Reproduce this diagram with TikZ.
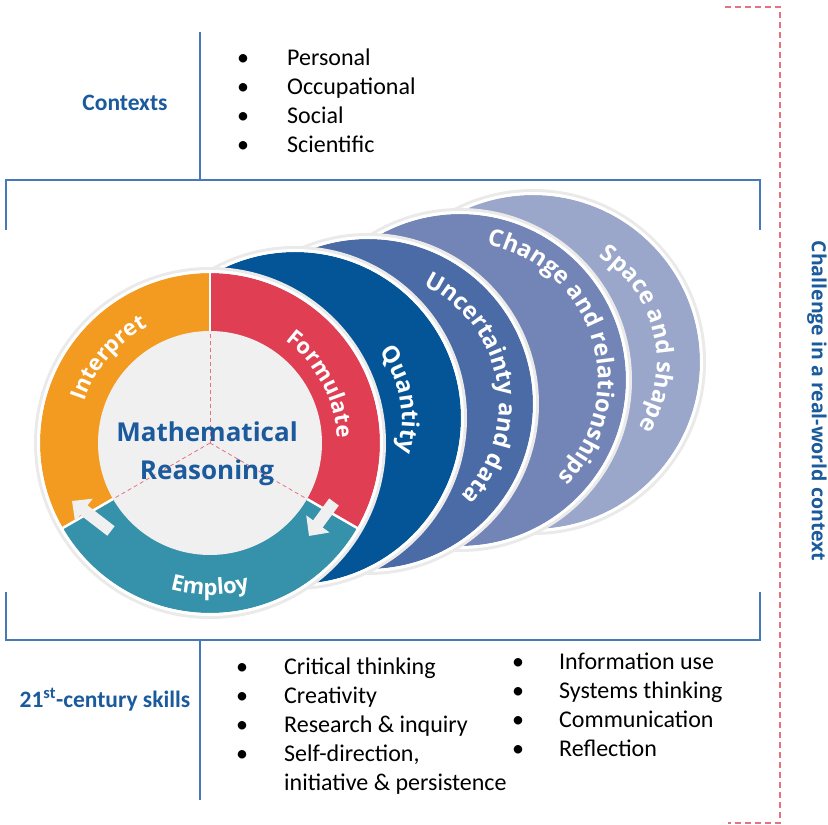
\documentclass[tikz,border=0pt]{standalone}
\usepackage{fontspec}
\setmainfont{Carlito}
\newfontfamily\wheelfamily{Open Sans}
\usetikzlibrary{arrows.meta,calc,decorations.text,positioning}

\definecolor{frameblue}{HTML}{4679B8}
\definecolor{headblue}{HTML}{1B5A9C}
\definecolor{dashpink}{HTML}{E8707F}
\definecolor{interpretorange}{HTML}{F39B21}
\definecolor{formulatered}{HTML}{E03F53}
\definecolor{employteal}{HTML}{3592AA}
\definecolor{quantityblue}{HTML}{035597}
\definecolor{uncertaintyblue}{HTML}{4A6BA5}
\definecolor{changeblue}{HTML}{7285B6}
\definecolor{spaceblue}{HTML}{9AA7CB}
\definecolor{coregrey}{HTML}{F0F0F0}
\definecolor{halogrey}{HTML}{EAEAEA}

\newcommand{\wheeltext}{\wheelfamily\bfseries\fontsize{22}{22}\selectfont\color{white}}
\newcommand{\domaintext}{\wheelfamily\bfseries\fontsize{23.5}{24}\selectfont\color{white}}

\begin{document}
\begin{tikzpicture}[x=1pt,y=1pt,>=latex]
\tikzstyle{frame}=[draw=frameblue,line width=1.5pt]
\tikzstyle{halo}=[fill=halogrey]
\tikzstyle{rim}=[draw=white,line width=3pt]
\tikzstyle{headtext}=[text=headblue,font=\bfseries\fontsize{23.5}{27}\selectfont,inner sep=0pt]
\tikzstyle{listtext}=[font=\fontsize{24}{29}\selectfont,inner sep=0pt]
\tikzstyle{coretext}=[text=headblue,font=\wheelfamily\bfseries\fontsize{26}{30}\selectfont,inner sep=0pt]
\tikzstyle{cyclearrow}=[draw=coregrey,line width=12pt,-{Triangle[width=28pt,length=15pt]}]
\tikzstyle{guide}=[draw=dashpink,line width=0.8pt,dash pattern=on 4pt off 3pt]
\tikzstyle{arclabel}=[decorate,decoration={text along path,text align=center,text={|\wheeltext|#1}}]
\tikzstyle{domainlabel}=[decorate,decoration={text along path,text align=center,text={|\domaintext|#1}}]

\useasboundingbox (0,0) rectangle (828,825);

% --- centres of the wheel and the content areas ---
\coordinate (W) at (210,382);
\coordinate (Q) at (295,407);
\coordinate (U) at (368,421);
\coordinate (C) at (460,445);
\coordinate (S) at (533,463);

% --- frame lines ---
\draw[frame] (200,793) -- (200,645);
\draw[frame] (6,595) -- (6,645) -- (760,645) -- (760,595);
\draw[frame] (6,233) -- (6,185) -- (760,185) -- (760,233);
\draw[frame] (200,185) -- (200,25);
\draw[dashpink,line width=1.5pt,dash pattern=on 6pt off 4pt] (725,818) -- (780,818) -- (780,2) -- (728,2);

% --- content areas (back to front) ---
\fill[halo] (S) circle[radius=173pt];
\fill[spaceblue] (S) circle[radius=167pt];
\draw[rim] (S) circle[radius=168.5pt];
\fill[halo] (C) circle[radius=172pt];
\fill[changeblue] (C) circle[radius=166pt];
\draw[rim] (C) circle[radius=167.5pt];
\fill[halo] (U) circle[radius=171pt];
\fill[uncertaintyblue] (U) circle[radius=165pt];
\draw[rim] (U) circle[radius=166.5pt];
\fill[halo] (Q) circle[radius=172pt];
\fill[quantityblue] (Q) circle[radius=166pt];
\draw[rim] (Q) circle[radius=167.5pt];

\path[domainlabel=Space and shape] ($(S)+(75:124pt)$) arc[start angle=75,end angle=-49,radius=124pt];
\path[domainlabel=Change and relationships] ($(C)+(90:138pt)$) arc[start angle=90,end angle=-56,radius=138pt];
\path[domainlabel=Uncertainty and data] ($(U)+(75:131pt)$) arc[start angle=75,end angle=-55,radius=131pt];
\path[domainlabel=Quantity] ($(Q)+(60:107pt)$) arc[start angle=60,end angle=-40,radius=107pt];

% --- modelling cycle ---
\fill[halo] (W) circle[radius=176pt];
\fill[interpretorange] (W) -- ($(W)+(90:170pt)$) arc[start angle=90,end angle=210,radius=170pt] -- cycle;
\fill[formulatered] (W) -- ($(W)+(-30:170pt)$) arc[start angle=-30,end angle=90,radius=170pt] -- cycle;
\fill[employteal] (W) -- ($(W)+(210:170pt)$) arc[start angle=210,end angle=330,radius=170pt] -- cycle;
\draw[rim] (W) circle[radius=171.5pt];
\fill[coregrey] (W) circle[radius=112pt];
\draw[white,line width=2.5pt] ($(W)+(90:112pt)$) -- ($(W)+(90:172pt)$);
\draw[white,line width=2.5pt] ($(W)+(210:112pt)$) -- ($(W)+(210:172pt)$);
\draw[white,line width=2.5pt] ($(W)+(330:112pt)$) -- ($(W)+(330:172pt)$);
\draw[guide] (W) -- ($(W)+(90:112pt)$);
\draw[guide] (W) -- ($(W)+(210:112pt)$);
\draw[guide] (W) -- ($(W)+(330:112pt)$);

\coordinate (tailL) at (111,294);
\coordinate (tipL) at (72,324);
\coordinate (tailR) at (334,323);
\coordinate (tipR) at (309,289);
\draw[cyclearrow] (tailL) -- (tipL);
\draw[cyclearrow] (tailR) -- (tipR);

\path[arclabel=Interpret] ($(W)+(190:132pt)$) arc[start angle=190,end angle=90,radius=132pt];
\path[arclabel=Formulate] ($(W)+(78:127pt)$) arc[start angle=78,end angle=-22,radius=127pt];
\path[arclabel=Employ] ($(W)+(220:152pt)$) arc[start angle=220,end angle=320,radius=152pt];

\node[coretext,anchor=base] (mathline) at (207,383) {Mathematical};
\node[coretext,anchor=base] (reasonline) at ([yshift=-38pt]mathline.base) {Reasoning};

% --- contexts ---
\node[headtext,anchor=base] (contexts) at (125,714) {Contexts};
\node[listtext,anchor=base west] (contextlist) at (237,759) {%
\begin{tabular}[t]{@{}p{50pt}@{}l@{}}
\textbullet & Personal\\
\textbullet & Occupational\\
\textbullet & Social\\
\textbullet & Scientific
\end{tabular}};

% --- 21st-century skills ---
\node[headtext,anchor=base] (skills) at (105,117) {21\textsuperscript{st}-century skills};
\node[listtext,anchor=base west] (skilllistA) at (236,150) {%
\begin{tabular}[t]{@{}p{48pt}@{}l@{}}
\textbullet & Critical thinking\\
\textbullet & Creativity\\
\textbullet & Research \& inquiry\\
\textbullet & Self-direction,\\
 & initiative \& persistence
\end{tabular}};
\node[listtext,anchor=base west] (skilllistB) at (512,155) {%
\begin{tabular}[t]{@{}p{47pt}@{}l@{}}
\textbullet & Information use\\
\textbullet & Systems thinking\\
\textbullet & Communication\\
\textbullet & Reflection
\end{tabular}};

% --- challenge ---
\node[text=headblue,font=\wheelfamily\bfseries\fontsize{19.5}{24}\selectfont,rotate=-90] (challenge) at (817,424) {Challenge in a real-world context};

\end{tikzpicture}
\end{document}
